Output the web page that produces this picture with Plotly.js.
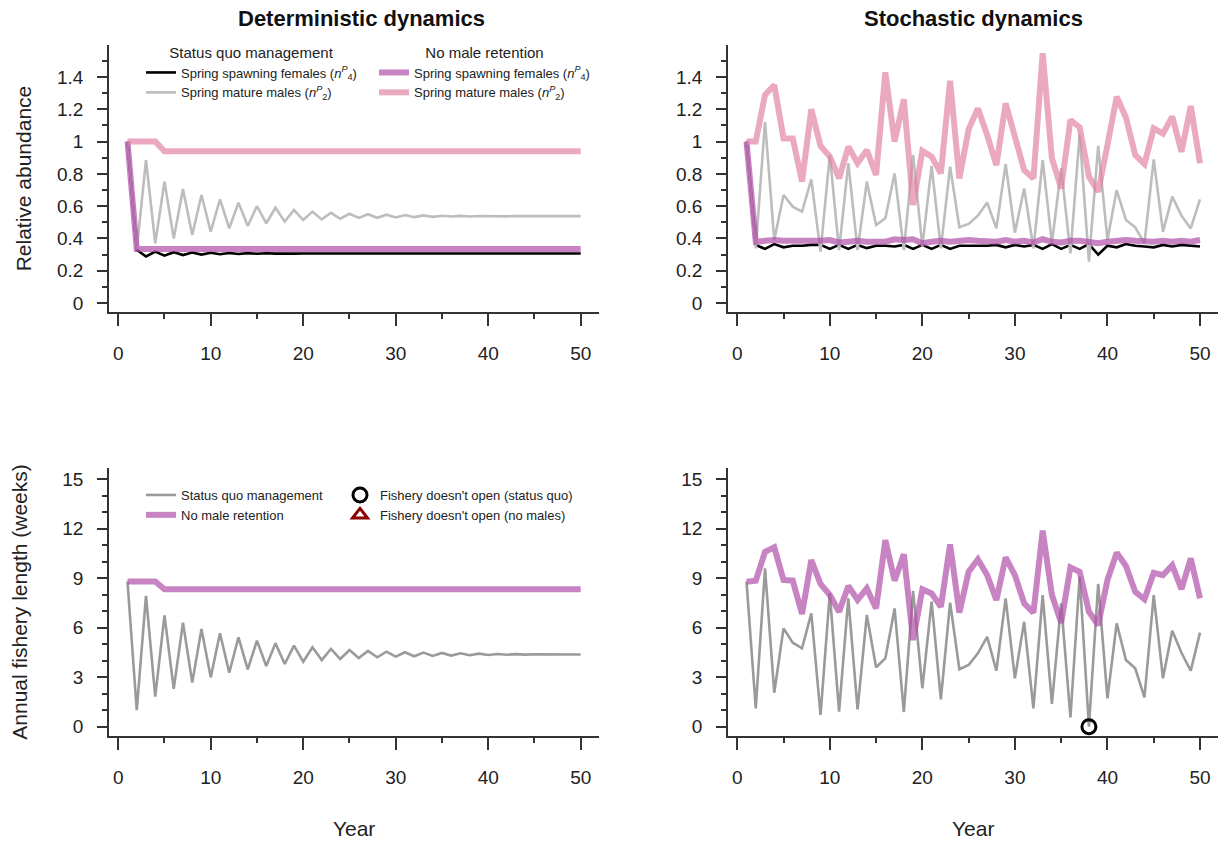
<!DOCTYPE html>
<html>
<head>
<meta charset="utf-8">
<script src="https://cdn.plot.ly/plotly-3.0.1.min.js"></script>
<style>html,body{margin:0;padding:0;background:#fff;}#chart{width:1220px;height:841px;}</style>
</head>
<body>
<div id="chart"></div>
<script>
// ---------- data ----------
var years = [1,2,3,4,5,6,7,8,9,10,11,12,13,14,15,16,17,18,19,20,21,22,23,24,25,26,27,28,29,30,31,32,33,34,35,36,37,38,39,40,41,42,43,44,45,46,47,48,49,50];

// Deterministic, relative abundance
var detFemalesSQ = [1.0,0.33,0.288,0.318,0.293,0.315,0.297,0.313,0.300,0.311,0.302,0.310,0.304,0.309,0.305,0.308,0.306,0.308,0.306,0.307,
  0.307,0.307,0.307,0.307,0.307,0.307,0.307,0.307,0.307,0.307,0.307,0.307,0.307,0.307,0.307,0.307,0.307,0.307,0.307,0.307,
  0.307,0.307,0.307,0.307,0.307,0.307,0.307,0.307,0.307,0.307];
var detMalesSQ = [1.0,0.33,0.886,0.37,0.752,0.40,0.706,0.421,0.669,0.442,0.642,0.463,0.622,0.477,0.601,0.494,0.590,0.504,0.576,0.514,
  0.566,0.518,0.559,0.522,0.553,0.527,0.550,0.528,0.547,0.530,0.545,0.532,0.543,0.534,0.541,0.536,0.540,0.536,0.539,0.537,
  0.538,0.537,0.538,0.537,0.538,0.538,0.538,0.538,0.538,0.538];
var detFemalesNM = [1.0,0.335,0.335,0.335,0.335,0.335,0.335,0.335,0.335,0.335,0.335,0.335,0.335,0.335,0.335,0.335,0.335,0.335,0.335,0.335,
  0.335,0.335,0.335,0.335,0.335,0.335,0.335,0.335,0.335,0.335,0.335,0.335,0.335,0.335,0.335,0.335,0.335,0.335,0.335,0.335,
  0.335,0.335,0.335,0.335,0.335,0.335,0.335,0.335,0.335,0.335];
var detMalesNM = [1.0,1.0,1.0,1.0,0.94,0.94,0.94,0.94,0.94,0.94,0.94,0.94,0.94,0.94,0.94,0.94,0.94,0.94,0.94,0.94,
  0.94,0.94,0.94,0.94,0.94,0.94,0.94,0.94,0.94,0.94,0.94,0.94,0.94,0.94,0.94,0.94,0.94,0.94,0.94,0.94,
  0.94,0.94,0.94,0.94,0.94,0.94,0.94,0.94,0.94,0.94];

// Stochastic, relative abundance
var stoFemalesSQ = [1.0,0.36,0.335,0.365,0.345,0.355,0.355,0.36,0.36,0.335,0.36,0.335,0.36,0.34,0.355,0.355,0.35,0.36,0.335,0.36,
  0.335,0.36,0.335,0.355,0.355,0.355,0.355,0.36,0.345,0.36,0.35,0.36,0.335,0.365,0.335,0.36,0.335,0.365,0.30,0.355,
  0.345,0.365,0.355,0.35,0.345,0.36,0.35,0.36,0.355,0.35];
var stoMalesSQ = [1.0,0.339,1.123,0.39,0.669,0.597,0.566,0.766,0.318,0.917,0.328,0.866,0.328,0.752,0.483,0.525,0.803,0.328,0.917,0.349,
  0.849,0.339,0.845,0.469,0.49,0.541,0.622,0.462,0.861,0.436,0.71,0.339,0.886,0.37,0.835,0.308,1.045,0.256,0.973,0.39,
  0.70,0.514,0.469,0.37,0.89,0.441,0.659,0.541,0.462,0.642];
var stoFemalesNM = [1.0,0.38,0.385,0.39,0.385,0.385,0.38,0.38,0.385,0.39,0.375,0.38,0.385,0.38,0.38,0.38,0.395,0.39,0.395,0.37,
  0.38,0.385,0.38,0.385,0.39,0.385,0.385,0.38,0.39,0.38,0.385,0.375,0.395,0.38,0.375,0.385,0.385,0.375,0.37,0.38,
  0.385,0.39,0.385,0.38,0.38,0.385,0.38,0.385,0.38,0.39];
var stoMalesNM = [1.0,1.0,1.289,1.351,1.02,1.02,0.752,1.20,0.973,0.907,0.772,0.968,0.866,0.948,0.793,1.429,1.0,1.262,0.607,0.942,
  0.907,0.803,1.377,0.772,1.076,1.206,1.041,0.855,1.237,1.03,0.824,0.772,1.547,0.896,0.71,1.134,1.088,0.783,0.69,0.979,
  1.278,1.15,0.917,0.861,1.082,1.05,1.155,0.937,1.22,0.866];

// Annual fishery length (weeks)
var detSeasonSQ = [8.8,1.01,7.93,1.82,6.75,2.29,6.31,2.67,5.92,2.99,5.66,3.27,5.42,3.48,5.22,3.68,5.06,3.80,4.91,3.94,
  4.81,4.04,4.71,4.10,4.65,4.16,4.59,4.21,4.55,4.25,4.51,4.27,4.49,4.29,4.47,4.31,4.45,4.33,4.43,4.35,
  4.41,4.36,4.40,4.37,4.39,4.38,4.38,4.38,4.38,4.38];
var detSeasonNM = [8.8,8.8,8.8,8.8,8.33,8.33,8.33,8.33,8.33,8.33,8.33,8.33,8.33,8.33,8.33,8.33,8.33,8.33,8.33,8.33,
  8.33,8.33,8.33,8.33,8.33,8.33,8.33,8.33,8.33,8.33,8.33,8.33,8.33,8.33,8.33,8.33,8.33,8.33,8.33,8.33,
  8.33,8.33,8.33,8.33,8.33,8.33,8.33,8.33,8.33,8.33];
var stoSeasonSQ = [8.79,1.11,9.6,2.06,5.96,5.09,4.75,6.87,0.71,8.08,0.91,7.78,1.05,6.77,3.6,4.14,7.17,0.89,8.24,2.33,
  7.58,1.66,7.52,3.48,3.74,4.45,5.45,3.39,7.78,2.93,6.36,1.11,7.98,1.38,7.48,0.57,9.09,0,8.65,1.72,
  6.26,4.04,3.54,1.78,7.98,2.93,5.82,4.48,3.39,5.7];
var stoSeasonNM = [8.79,8.85,10.6,10.87,8.89,8.85,6.83,10.1,8.65,7.98,6.97,8.53,7.68,8.38,7.17,11.3,8.85,10.45,5.25,8.33,
  8.08,7.27,11.05,6.91,9.39,10.14,9.19,7.68,10.26,9.19,7.48,6.91,11.88,7.98,6.30,9.66,9.39,6.97,6.16,8.89,
  10.55,9.74,8.18,7.72,9.33,9.19,9.79,8.33,10.2,7.78];

// Years in which the fishery does not open
var closedYearsSQ = [38];
var closedWeeksSQ = [0];
var closedYearsNM = [null];
var closedWeeksNM = [null];

// Tick labels
var xTickVals = [0,10,20,30,40,50];
var xTickText = ['0','10','20','30','40','50'];
var abundTickVals = [0,0.2,0.4,0.6,0.8,1,1.2,1.4];
var abundTickText = ['0','0.2','0.4','0.6','0.8','1','1.2','1.4'];
var weekTickVals = [0,3,6,9,12,15];
var weekTickText = ['0','3','6','9','12','15'];

// ---------- styles ----------
var FONT = 'Liberation Sans, Arial, Helvetica, sans-serif';
var cBlack = '#000000', cLightGrey = '#bdbdbd', cGrey = '#9a9a9a';
var cPurple = 'rgba(176,80,168,0.70)', cPink = 'rgba(226,127,164,0.68)';
var nF = '(<i>n</i><sup><i>P</i></sup><sub>4</sub>)';
var nM = '(<i>n</i><sup><i>P</i></sup><sub>2</sub>)';

function ln(x, y, xa, ya, color, width, name, legend, show) {
  return {x: x, y: y, xaxis: xa, yaxis: ya, type: 'scatter', mode: 'lines',
    line: {color: color, width: width}, name: name, legend: legend, showlegend: show, hoverinfo: 'x+y'};
}

var traces = [
  // top-left
  ln(years, detFemalesSQ, 'x', 'y', cBlack, 2.6, 'Spring spawning females ' + nF, 'legend', true),
  ln(years, detMalesSQ, 'x', 'y', cLightGrey, 2.6, 'Spring mature males ' + nM, 'legend', true),
  ln(years, detFemalesNM, 'x', 'y', cPurple, 6, 'Spring spawning females ' + nF, 'legend2', true),
  ln(years, detMalesNM, 'x', 'y', cPink, 6, 'Spring mature males ' + nM, 'legend2', true),
  // top-right
  ln(years, stoFemalesSQ, 'x2', 'y2', cBlack, 2.6, 'SQ females', 'legend', false),
  ln(years, stoMalesSQ, 'x2', 'y2', cLightGrey, 2.6, 'SQ males', 'legend', false),
  ln(years, stoFemalesNM, 'x2', 'y2', cPurple, 6, 'NM females', 'legend', false),
  ln(years, stoMalesNM, 'x2', 'y2', cPink, 6, 'NM males', 'legend', false),
  // bottom-left
  ln(years, detSeasonSQ, 'x3', 'y3', cGrey, 2.6, 'Status quo management', 'legend3', true),
  ln(years, detSeasonNM, 'x3', 'y3', cPurple, 6, 'No male retention', 'legend3', true),
  // bottom-right
  ln(years, stoSeasonSQ, 'x4', 'y4', cGrey, 2.6, 'SQ season', 'legend3', false),
  ln(years, stoSeasonNM, 'x4', 'y4', cPurple, 6, 'NM season', 'legend3', false),
  {x: closedYearsSQ, y: closedWeeksSQ, xaxis: 'x4', yaxis: 'y4', type: 'scatter', mode: 'markers',
    marker: {symbol: 'circle-open', size: 14, color: '#000', line: {width: 3, color: '#000'}},
    name: "Fishery doesn't open (status quo)", legend: 'legend4', showlegend: true, cliponaxis: false},
  {x: closedYearsNM, y: closedWeeksNM, xaxis: 'x4', yaxis: 'y4', type: 'scatter', mode: 'markers',
    marker: {symbol: 'triangle-up-open', size: 13, color: '#8b0000', line: {width: 3, color: '#8b0000'}},
    name: "Fishery doesn't open (no males)", legend: 'legend4', showlegend: true, cliponaxis: false}
];

var axCol = '#333333';
function xax(domain, anchor, title) {
  var a = {domain: domain, anchor: anchor, range: [-1, 52], showline: true, linecolor: axCol, linewidth: 1.5,
    showgrid: false, zeroline: false, ticks: 'outside', ticklen: 12, tickwidth: 1.5, tickcolor: axCol,
    tickmode: 'array', tickvals: xTickVals, ticktext: xTickText, ticklabelstandoff: 11,
    tickfont: {family: FONT, size: 19, color: '#222'},
    minor: {tickmode: 'linear', tick0: 0, dtick: 5, ticks: 'outside', ticklen: 5, tickwidth: 1.5, tickcolor: axCol, showgrid: false},
    fixedrange: true};
  if (title) a.title = {text: title, font: {family: FONT, size: 21, color: '#222'}, standoff: 35};
  return a;
}
function yax(domain, anchor, range, vals, text, minorDt, title, standoff) {
  return {domain: domain, anchor: anchor, range: range, showline: true, linecolor: axCol, linewidth: 1.5,
    showgrid: false, zeroline: false, ticks: 'outside', ticklen: 10, tickwidth: 1.5, tickcolor: axCol,
    tickmode: 'array', tickvals: vals, ticktext: text, ticklabelstandoff: 10,
    tickfont: {family: FONT, size: 19, color: '#222'},
    minor: {tickmode: 'linear', tick0: 0, dtick: minorDt, ticks: 'outside', ticklen: 5, tickwidth: 1.5, tickcolor: axCol, showgrid: false},
    title: title ? {text: title, font: {family: FONT, size: 21, color: '#222'}, standoff: standoff} : {text: ''},
    fixedrange: true};
}

var colL = [0.08934, 0.49115], colR = [0.59672, 0.99877];
var rowT = [0.62901, 0.94637], rowB = [0.12485, 0.44352];
var rangeT = [-0.0558, 1.598], rangeB = [-0.564, 15.68];

function leg(x, y, title, size) {
  var l = {x: x, y: y, xanchor: 'left', yanchor: 'top', bgcolor: 'rgba(0,0,0,0)', borderwidth: 0,
    font: {family: FONT, size: size || 13, color: '#222'}, tracegroupgap: 0, itemwidth: 30, itemclick: false, itemdoubleclick: false};
  if (title) l.title = {text: title, side: 'top center', font: {family: FONT, size: 15, color: '#222'}};
  return l;
}

var layout = {
  width: 1220, height: 841, margin: {l: 0, r: 0, t: 0, b: 0},
  paper_bgcolor: '#ffffff', plot_bgcolor: '#ffffff',
  font: {family: FONT, color: '#222'},
  showlegend: true,
  xaxis: xax(colL, 'y', null),
  yaxis: yax(rowT, 'x', rangeT, abundTickVals, abundTickText, 0.1, 'Relative abundance', 20),
  xaxis2: xax(colR, 'y2', null),
  yaxis2: yax(rowT, 'x2', rangeT, abundTickVals, abundTickText, 0.1, null, 0),
  xaxis3: xax(colL, 'y3', 'Year'),
  yaxis3: yax(rowB, 'x3', rangeB, weekTickVals, weekTickText, 1, 'Annual fishery length (weeks)', 29),
  xaxis4: xax(colR, 'y4', 'Year'),
  yaxis4: yax(rowB, 'x4', rangeB, weekTickVals, weekTickText, 1, null, 0),
  legend: leg(141/1220, 1 - 38/841, 'Status quo management'),
  legend2: leg(374/1220, 1 - 38/841, 'No male retention'),
  legend3: leg(141/1220, 1 - 480/841, null),
  legend4: leg(340/1220, 1 - 480/841, null),
  annotations: [
    {text: '<b>Deterministic dynamics</b>', xref: 'paper', yref: 'paper', x: 361/1220, y: 1 - 19/841,
      xanchor: 'center', yanchor: 'middle', showarrow: false, font: {family: FONT, size: 22, color: '#111'}},
    {text: '<b>Stochastic dynamics</b>', xref: 'paper', yref: 'paper', x: 973/1220, y: 1 - 19/841,
      xanchor: 'center', yanchor: 'middle', showarrow: false, font: {family: FONT, size: 22, color: '#111'}}
  ]
};

Plotly.newPlot('chart', traces, layout, {displayModeBar: false, staticPlot: false, responsive: false});
</script>
</body>
</html>
